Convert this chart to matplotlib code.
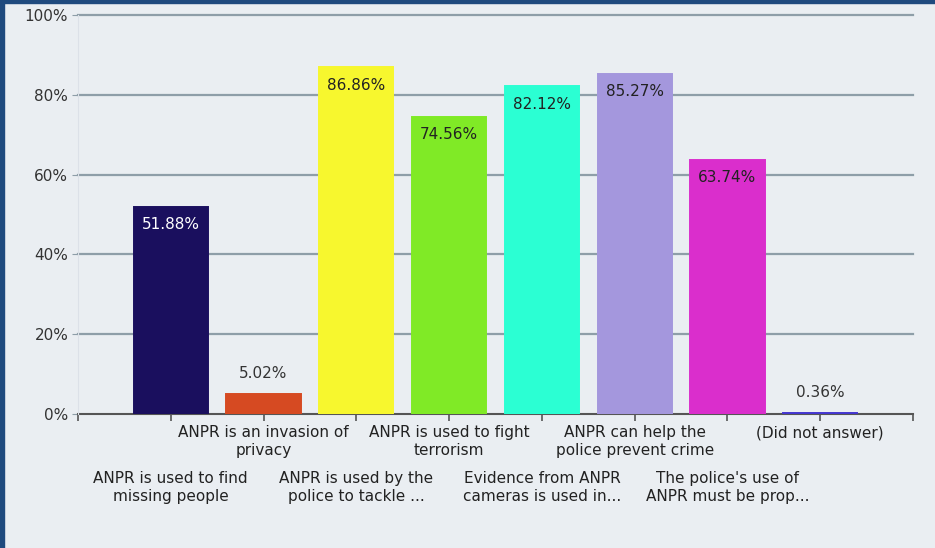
import numpy as np
import matplotlib.pyplot as plt
from matplotlib.patches import Rectangle

# Данные
labels = ["ANPR is used to find\nmissing people",
          "ANPR is an invasion of\nprivacy",
          "ANPR is used by the\npolice to tackle ...",
          "ANPR is used to fight\nterrorism",
          "Evidence from ANPR\ncameras is used in...",
          "ANPR can help the\npolice prevent crime",
          "The police's use of\nANPR must be prop...",
          "(Did not answer)"]
values = [51.88, 5.02, 86.86, 74.56, 82.12, 85.27, 63.74, 0.36]
colors = ['#1a0f5e', '#d64a22', '#f7f72e', '#80ea26', '#2bffd3', '#a497dd', '#da2ecc', '#4436d0']
label_colors = ['white', '#222', '#222', '#222', '#222', '#222', '#222', '#222']
yticks = [0, 20, 40, 60, 80, 100]

plt.rcParams['font.family'] = ['DejaVu Sans']
bg = '#eaeef2'
W, H = 935, 548
fig = plt.figure(figsize=(W / 100, H / 100), dpi=100, facecolor=bg)

# Рамка
fig.patches.append(Rectangle((0, 0), 4 / W, 1, transform=fig.transFigure, color='#1f4a7e', zorder=0))
fig.patches.append(Rectangle((0, 1 - 3 / H), 1, 3 / H, transform=fig.transFigure, color='#1f4a7e', zorder=0))

ax = fig.add_axes([78 / W, 134 / H, (913 - 78) / W, (414 - 15) / H])
ax.set_facecolor(bg)
x = np.arange(1, len(values) + 1)
ax.bar(x, values, width=0.80, color=colors, edgecolor=colors, linewidth=1.4, zorder=3)
ax.set_xlim(0, 9)
ax.set_ylim(0, 100)

for y in yticks[1:]:
    ax.axhline(y, color='#8e9ea8', lw=1.6, zorder=1, clip_on=False)

for xi, v, lc in zip(x, values, label_colors):
    if v > 20:
        ax.annotate(f"{v:.2f}%", (xi, v), xytext=(0, -18), textcoords='offset pixels',
                    ha='center', va='center', fontsize=11, color=lc, zorder=4)
    else:
        ax.annotate(f"{v:.2f}%", (xi, v), xytext=(0, 20), textcoords='offset pixels',
                    ha='center', va='center', fontsize=11, color='#333', zorder=4)

ax.set_yticks(yticks)
ax.set_yticklabels([f"{t}%" for t in yticks], fontsize=11, color='#333')
ax.set_xticks(np.arange(0, 10))
ax.set_xticklabels([])
ax.tick_params(axis='y', length=4, color='#8e9ea8', pad=3)
ax.tick_params(axis='x', length=5, width=1.2, color='#555', direction='out')

for s in ['top', 'right']:
    ax.spines[s].set_visible(False)
ax.spines['left'].set_color('#dce1e8')
ax.spines['bottom'].set_color('#555')
ax.spines['bottom'].set_linewidth(1.5)
ax.spines['bottom'].set_zorder(2)

# Подписи категорий в два ряда
for i, (xi, lab) in enumerate(zip(x, labels)):
    off = -11 if i % 2 == 1 else -57
    ax.annotate(lab, (xi, 0), xytext=(0, off), textcoords='offset pixels',
                ha='center', va='top', fontsize=11, color='#222', linespacing=1.25,
                annotation_clip=False)

fig.savefig('out.png', dpi=100, facecolor=bg)
